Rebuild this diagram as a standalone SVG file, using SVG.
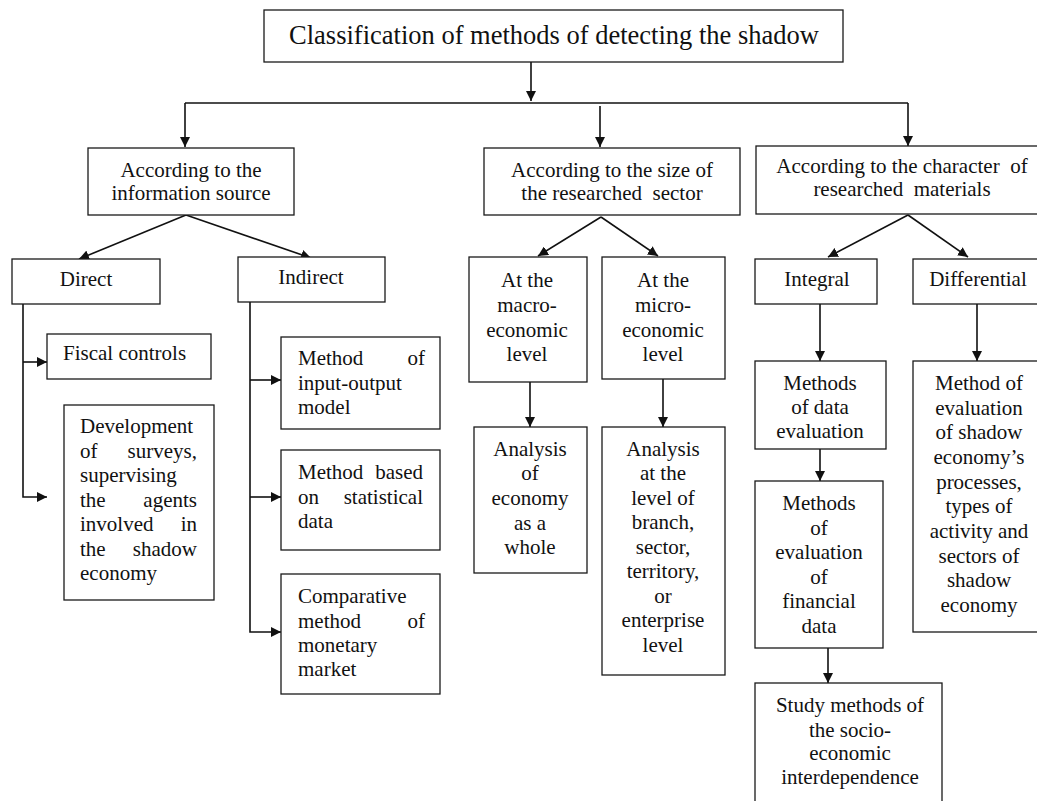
<svg xmlns="http://www.w3.org/2000/svg" width="1037" height="801" viewBox="0 0 1037 801" font-family="'Liberation Serif', 'Times New Roman', 'DejaVu Serif', serif">
<style>
.b{fill:#fff;stroke:#1a1a1a;stroke-width:1.3}
text{font-family:'Liberation Serif','Times New Roman','DejaVu Serif',serif;font-size:21px;fill:#111}
.c{text-anchor:middle}
.e{text-anchor:end}
.t{font-size:26.5px}
.l{fill:none;stroke:#111;stroke-width:1.6}
</style>
<defs>
<marker id="a" viewBox="0 0 10 10" refX="10" refY="5" markerWidth="10" markerHeight="10" markerUnits="userSpaceOnUse" orient="auto">
<path d="M0,0 L10,5 L0,10 z" fill="#111"/>
</marker>
</defs>
<rect width="1037" height="801" fill="#fff"/>
<g id="connectors">
<path class="l" d="M531,62 V101" marker-end="url(#a)"/>
<path class="l" d="M185,103 H908"/>
<path class="l" d="M185,103 V147" marker-end="url(#a)"/>
<path class="l" d="M600,106 V147" marker-end="url(#a)"/>
<path class="l" d="M908,103 V146" marker-end="url(#a)"/>
<path class="l" d="M186,215 L79,259" marker-end="url(#a)"/>
<path class="l" d="M186,215 L311,258" marker-end="url(#a)"/>
<path class="l" d="M601,217 L538,256" marker-end="url(#a)"/>
<path class="l" d="M601,217 L658,256" marker-end="url(#a)"/>
<path class="l" d="M908,215 L828,257" marker-end="url(#a)"/>
<path class="l" d="M908,215 L968,257" marker-end="url(#a)"/>
<path class="l" d="M23,304 V497 H47" marker-end="url(#a)"/>
<path class="l" d="M23,362 H47" marker-end="url(#a)"/>
<path class="l" d="M250,302 V632 H281" marker-end="url(#a)"/>
<path class="l" d="M250,380 H281" marker-end="url(#a)"/>
<path class="l" d="M250,497 H281" marker-end="url(#a)"/>
<path class="l" d="M530,382 V427" marker-end="url(#a)"/>
<path class="l" d="M663,379 V427" marker-end="url(#a)"/>
<path class="l" d="M820,304 V361" marker-end="url(#a)"/>
<path class="l" d="M977,304 V361" marker-end="url(#a)"/>
<path class="l" d="M820,449 V481" marker-end="url(#a)"/>
<path class="l" d="M828,648 V683" marker-end="url(#a)"/>
</g>
<g id="title">
<rect class="b" x="264" y="10" width="579" height="52"/>
<text class="t c" x="554" y="44">Classification of methods of detecting the shadow</text>
</g>
<g id="info-source">
<rect class="b" x="88" y="148" width="206" height="67"/>
<text class="c" x="191" y="177">According to the</text>
<text class="c" x="191" y="200">information source</text>
</g>
<g id="size-sector">
<rect class="b" x="484" y="148" width="256" height="67"/>
<text class="c" x="612" y="177">According to the size of</text>
<text class="c" x="612" y="200" xml:space="preserve">the researched  sector</text>
</g>
<g id="character">
<rect class="b" x="756" y="146" width="290" height="68"/>
<text class="c" x="902" y="173" xml:space="preserve">According to the character  of</text>
<text class="c" x="902" y="196" xml:space="preserve">researched  materials</text>
</g>
<g id="direct">
<rect class="b" x="12" y="259" width="148" height="45"/>
<text class="c" x="86" y="286">Direct</text>
</g>
<g id="indirect">
<rect class="b" x="238" y="257" width="147" height="45"/>
<text class="c" x="311" y="284">Indirect</text>
</g>
<g id="fiscal">
<rect class="b" x="47" y="334" width="164" height="45"/>
<text x="63" y="360">Fiscal controls</text>
</g>
<g id="surveys">
<rect class="b" x="64" y="405" width="150" height="195"/>
<text x="80" y="433">Development</text>
<text x="80" y="458">of</text><text class="e" x="197" y="458">surveys,</text>
<text x="80" y="482">supervising</text>
<text x="80" y="507">the</text><text class="e" x="197" y="507">agents</text>
<text x="80" y="531">involved</text><text class="e" x="197" y="531">in</text>
<text x="80" y="556">the</text><text class="e" x="197" y="556">shadow</text>
<text x="80" y="580">economy</text>
</g>
<g id="input-output">
<rect class="b" x="281" y="337" width="159" height="92"/>
<text x="298" y="365">Method</text><text class="e" x="425" y="365">of</text>
<text x="298" y="390">input-output</text>
<text x="298" y="414">model</text>
</g>
<g id="statistical">
<rect class="b" x="281" y="450" width="159" height="100"/>
<text x="298" y="479">Method</text><text class="e" x="423" y="479">based</text>
<text x="298" y="504">on</text><text class="e" x="423" y="504">statistical</text>
<text x="298" y="528">data</text>
</g>
<g id="comparative">
<rect class="b" x="281" y="574" width="159" height="120"/>
<text x="298" y="603">Comparative</text>
<text x="298" y="628">method</text><text class="e" x="425" y="628">of</text>
<text x="298" y="652">monetary</text>
<text x="298" y="676">market</text>
</g>
<g id="macro">
<rect class="b" x="469" y="257" width="118" height="125"/>
<text class="c" x="527" y="287">At the</text>
<text class="c" x="527" y="312">macro-</text>
<text class="c" x="527" y="337">economic</text>
<text class="c" x="527" y="361">level</text>
</g>
<g id="micro">
<rect class="b" x="602" y="257" width="123" height="122"/>
<text class="c" x="663" y="287">At the</text>
<text class="c" x="663" y="312">micro-</text>
<text class="c" x="663" y="337">economic</text>
<text class="c" x="663" y="361">level</text>
</g>
<g id="economy-whole">
<rect class="b" x="474" y="427" width="113" height="146"/>
<text class="c" x="530" y="456">Analysis</text>
<text class="c" x="530" y="480">of</text>
<text class="c" x="530" y="505">economy</text>
<text class="c" x="530" y="530">as a</text>
<text class="c" x="530" y="554">whole</text>
</g>
<g id="branch-level">
<rect class="b" x="602" y="427" width="123" height="248"/>
<text class="c" x="663" y="456">Analysis</text>
<text class="c" x="663" y="480">at the</text>
<text class="c" x="663" y="505">level of</text>
<text class="c" x="663" y="529">branch,</text>
<text class="c" x="663" y="554">sector,</text>
<text class="c" x="663" y="578">territory,</text>
<text class="c" x="663" y="603">or</text>
<text class="c" x="663" y="627">enterprise</text>
<text class="c" x="663" y="652">level</text>
</g>
<g id="integral">
<rect class="b" x="755" y="259" width="122" height="45"/>
<text class="c" x="817" y="286">Integral</text>
</g>
<g id="differential">
<rect class="b" x="913" y="259" width="132" height="45"/>
<text class="c" x="978" y="286">Differential</text>
</g>
<g id="data-evaluation">
<rect class="b" x="755" y="361" width="131" height="88"/>
<text class="c" x="820" y="390">Methods</text>
<text class="c" x="820" y="414">of data</text>
<text class="c" x="820" y="438">evaluation</text>
</g>
<g id="financial-data">
<rect class="b" x="755" y="481" width="128" height="167"/>
<text class="c" x="819" y="510">Methods</text>
<text class="c" x="819" y="535">of</text>
<text class="c" x="819" y="559">evaluation</text>
<text class="c" x="819" y="584">of</text>
<text class="c" x="819" y="608">financial</text>
<text class="c" x="819" y="633">data</text>
</g>
<g id="shadow-processes">
<rect class="b" x="913" y="361" width="132" height="271"/>
<text class="c" x="979" y="390">Method of</text>
<text class="c" x="979" y="415">evaluation</text>
<text class="c" x="979" y="439">of shadow</text>
<text class="c" x="979" y="464">economy’s</text>
<text class="c" x="979" y="489">processes,</text>
<text class="c" x="979" y="513">types of</text>
<text class="c" x="979" y="538">activity and</text>
<text class="c" x="979" y="563">sectors of</text>
<text class="c" x="979" y="587">shadow</text>
<text class="c" x="979" y="612">economy</text>
</g>
<g id="socio-economic">
<rect class="b" x="755" y="683" width="187" height="130"/>
<text class="c" x="850" y="712">Study methods of</text>
<text class="c" x="850" y="737">the socio-</text>
<text class="c" x="850" y="760">economic</text>
<text class="c" x="850" y="784">interdependence</text>
</g>
</svg>
